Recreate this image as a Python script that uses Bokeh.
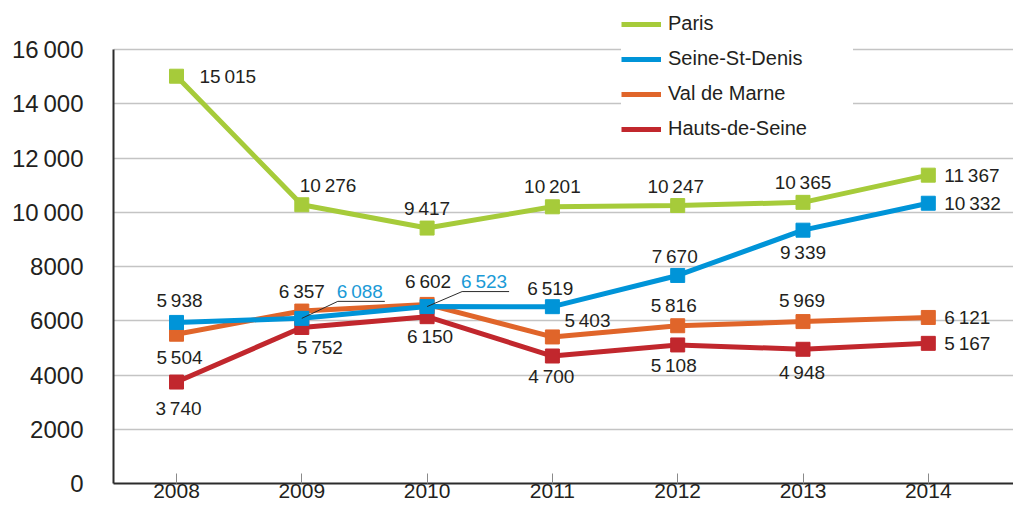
from bokeh.plotting import figure
from bokeh.models import ColumnDataSource, FixedTicker, Legend, LegendItem, Range1d
from bokeh.core.properties import value
from bokeh.embed import file_html
from bokeh.resources import INLINE

# ---------------- data ----------------
years = [2008, 2009, 2010, 2011, 2012, 2013, 2014]
series_names = ["Paris", "Seine-St-Denis", "Val de Marne", "Hauts-de-Seine"]
paris = [15015, 10276, 9417, 10201, 10247, 10365, 11367]
seine_st_denis = [5938, 6088, 6523, 6519, 7670, 9339, 10332]
val_de_marne = [5504, 6357, 6602, 5403, 5816, 5969, 6121]
hauts_de_seine = [3740, 5752, 6150, 4700, 5108, 4948, 5167]
y_ticks = [0, 2000, 4000, 6000, 8000, 10000, 12000, 14000, 16000]

# ---------------- styles ----------------
FONT = "Liberation Sans"
TEXT_COLOR = "#231f20"
colors = {"Paris": "#a6cb3a", "Seine-St-Denis": "#0094d8",
          "Val de Marne": "#e0652a", "Hauts-de-Seine": "#c1272d"}
LABEL_BLUE = "#1b9ad6"

# label offsets in pixels (dx, dy) and alignment per point
label_style = {
    "Paris": dict(dx=[23, -2, 0, 0, -2, 0, 16], dy=[0, -19, -20, -20, -19, -20, 0],
                  align=["left", "left", "center", "center", "center", "center", "left"]),
    "Seine-St-Denis": dict(dx=[3, 35, 34, -2, -3, 0, 16], dy=[-22, -27, -25, -18, -19, 22, 0],
                           align=["center", "left", "left", "center", "center", "center", "left"]),
    "Val de Marne": dict(dx=[3, 0, 1, 12, -4, -1, 16], dy=[23, -20, -23, -16, -20, -21, 0],
                         align=["center", "center", "center", "left", "center", "center", "left"]),
    "Hauts-de-Seine": dict(dx=[2, 18, 3, -1, -4, -1, 16], dy=[26, 20, 20, 20, 21, 23, 0],
                           align=["center", "center", "center", "center", "center", "center", "left"]),
}
# callout (underlined) labels: series -> point indices
callouts = {"Seine-St-Denis": [1, 2]}

W, H = 1013, 506
LEFT, BOTTOM = 113, 23
frame_w, frame_h = W - LEFT, H - BOTTOM
px_per_year = 125.3
px_per_unit = (frame_h - 49.0) / 16000.0
x0 = years[0] - 63.0 / px_per_year
x1 = x0 + frame_w / px_per_year
y1 = frame_h / px_per_unit


def fmt(v, min_len=4):
    s = str(v)
    if len(s) >= min_len and len(s) > 3:
        s = s[:-3] + "\u2009" + s[-3:]
    return s


p = figure(width=W, height=H, output_backend="svg", toolbar_location=None,
           x_range=Range1d(x0, x1), y_range=Range1d(0, y1),
           min_border_left=LEFT, min_border_right=0, min_border_top=0,
           min_border_bottom=BOTTOM)
p.outline_line_color = None
p.background_fill_color = "white"

# grid
p.xgrid.visible = False
p.ygrid.ticker = FixedTicker(ticks=y_ticks)
p.ygrid.grid_line_color = "#c4c4c4"
p.ygrid.grid_line_width = 1.5

# y axis
p.yaxis.ticker = FixedTicker(ticks=y_ticks)
p.yaxis.bounds = (0, 16000)
p.yaxis.major_tick_in = 0
p.yaxis.major_tick_out = 0
p.yaxis.minor_tick_line_color = None
p.yaxis.axis_line_width = 2
p.yaxis.axis_line_color = "#2b2b2b"
p.yaxis.major_label_text_font = FONT
p.yaxis.major_label_text_font_size = "24px"
p.yaxis.major_label_text_color = TEXT_COLOR
p.yaxis.major_label_standoff = 30
p.yaxis.major_label_overrides = {t: fmt(t, 5) for t in y_ticks}

# x axis
p.xaxis.ticker = FixedTicker(ticks=years)
p.xaxis.major_tick_in = 10
p.xaxis.major_tick_out = 0
p.xaxis.major_tick_line_color = "#8a8a8a"
p.xaxis.major_tick_line_width = 1
p.xaxis.minor_tick_line_color = None
p.xaxis.axis_line_width = 2
p.xaxis.axis_line_color = "#2b2b2b"
p.xaxis.major_label_text_font = FONT
p.xaxis.major_label_text_font_size = "21px"
p.xaxis.major_label_text_color = TEXT_COLOR
p.xaxis.major_label_standoff = 0

values = {"Paris": paris, "Seine-St-Denis": seine_st_denis,
          "Val de Marne": val_de_marne, "Hauts-de-Seine": hauts_de_seine}

line_renderers = {}
for name in ["Hauts-de-Seine", "Val de Marne", "Seine-St-Denis", "Paris"]:
    src = ColumnDataSource(dict(x=years, y=values[name]))
    r = p.line("x", "y", source=src, line_color=colors[name], line_width=5)
    p.scatter("x", "y", source=src, marker="square", size=14,
              fill_color=colors[name], line_color=colors[name])
    line_renderers[name] = r

# callout leader lines (underline + leader) for underlined labels
xs_per_px = 1.0 / px_per_year
ys_per_px = 1.0 / px_per_unit
for name, idxs in callouts.items():
    lx, ly = [], []
    for i in idxs:
        xv, yv = years[i], values[name][i]
        st = label_style[name]
        tx, ty = st["dx"][i], st["dy"][i]
        ulen = 47
        pts = [(0, 0), (tx + 1, ty + 10), (tx + 1 + ulen, ty + 10)]
        lx.append([xv + a * xs_per_px for a, b in pts])
        ly.append([yv - b * ys_per_px for a, b in pts])
    p.multi_line(lx, ly, line_color="#2b2b2b", line_width=1)

# data labels
for name in series_names:
    st = label_style[name]
    cols = [TEXT_COLOR] * len(years)
    for i in callouts.get(name, []):
        cols[i] = LABEL_BLUE
    src = ColumnDataSource(dict(x=years, y=values[name],
                                t=[fmt(v) for v in values[name]],
                                dx=st["dx"], dy=st["dy"], al=st["align"], c=cols))
    p.text("x", "y", text="t", source=src, x_offset="dx", y_offset="dy",
           text_align="al", text_baseline="middle", text_color="c",
           text_font=value(FONT), text_font_size="19px")

legend = Legend(items=[LegendItem(label=n, renderers=[line_renderers[n]]) for n in series_names],
                location=(516 - 8, frame_h - 140), orientation="vertical",
                background_fill_color="white", background_fill_alpha=1.0,
                border_line_color=None, glyph_width=40, glyph_height=20,
                label_height=20, spacing=12, padding=5, margin=0,
                label_standoff=7, label_width=185,
                label_text_font=FONT, label_text_font_size="20px",
                label_text_color=TEXT_COLOR)
p.add_layout(legend, "center")

open("out.html", "w").write(file_html(p, INLINE))
